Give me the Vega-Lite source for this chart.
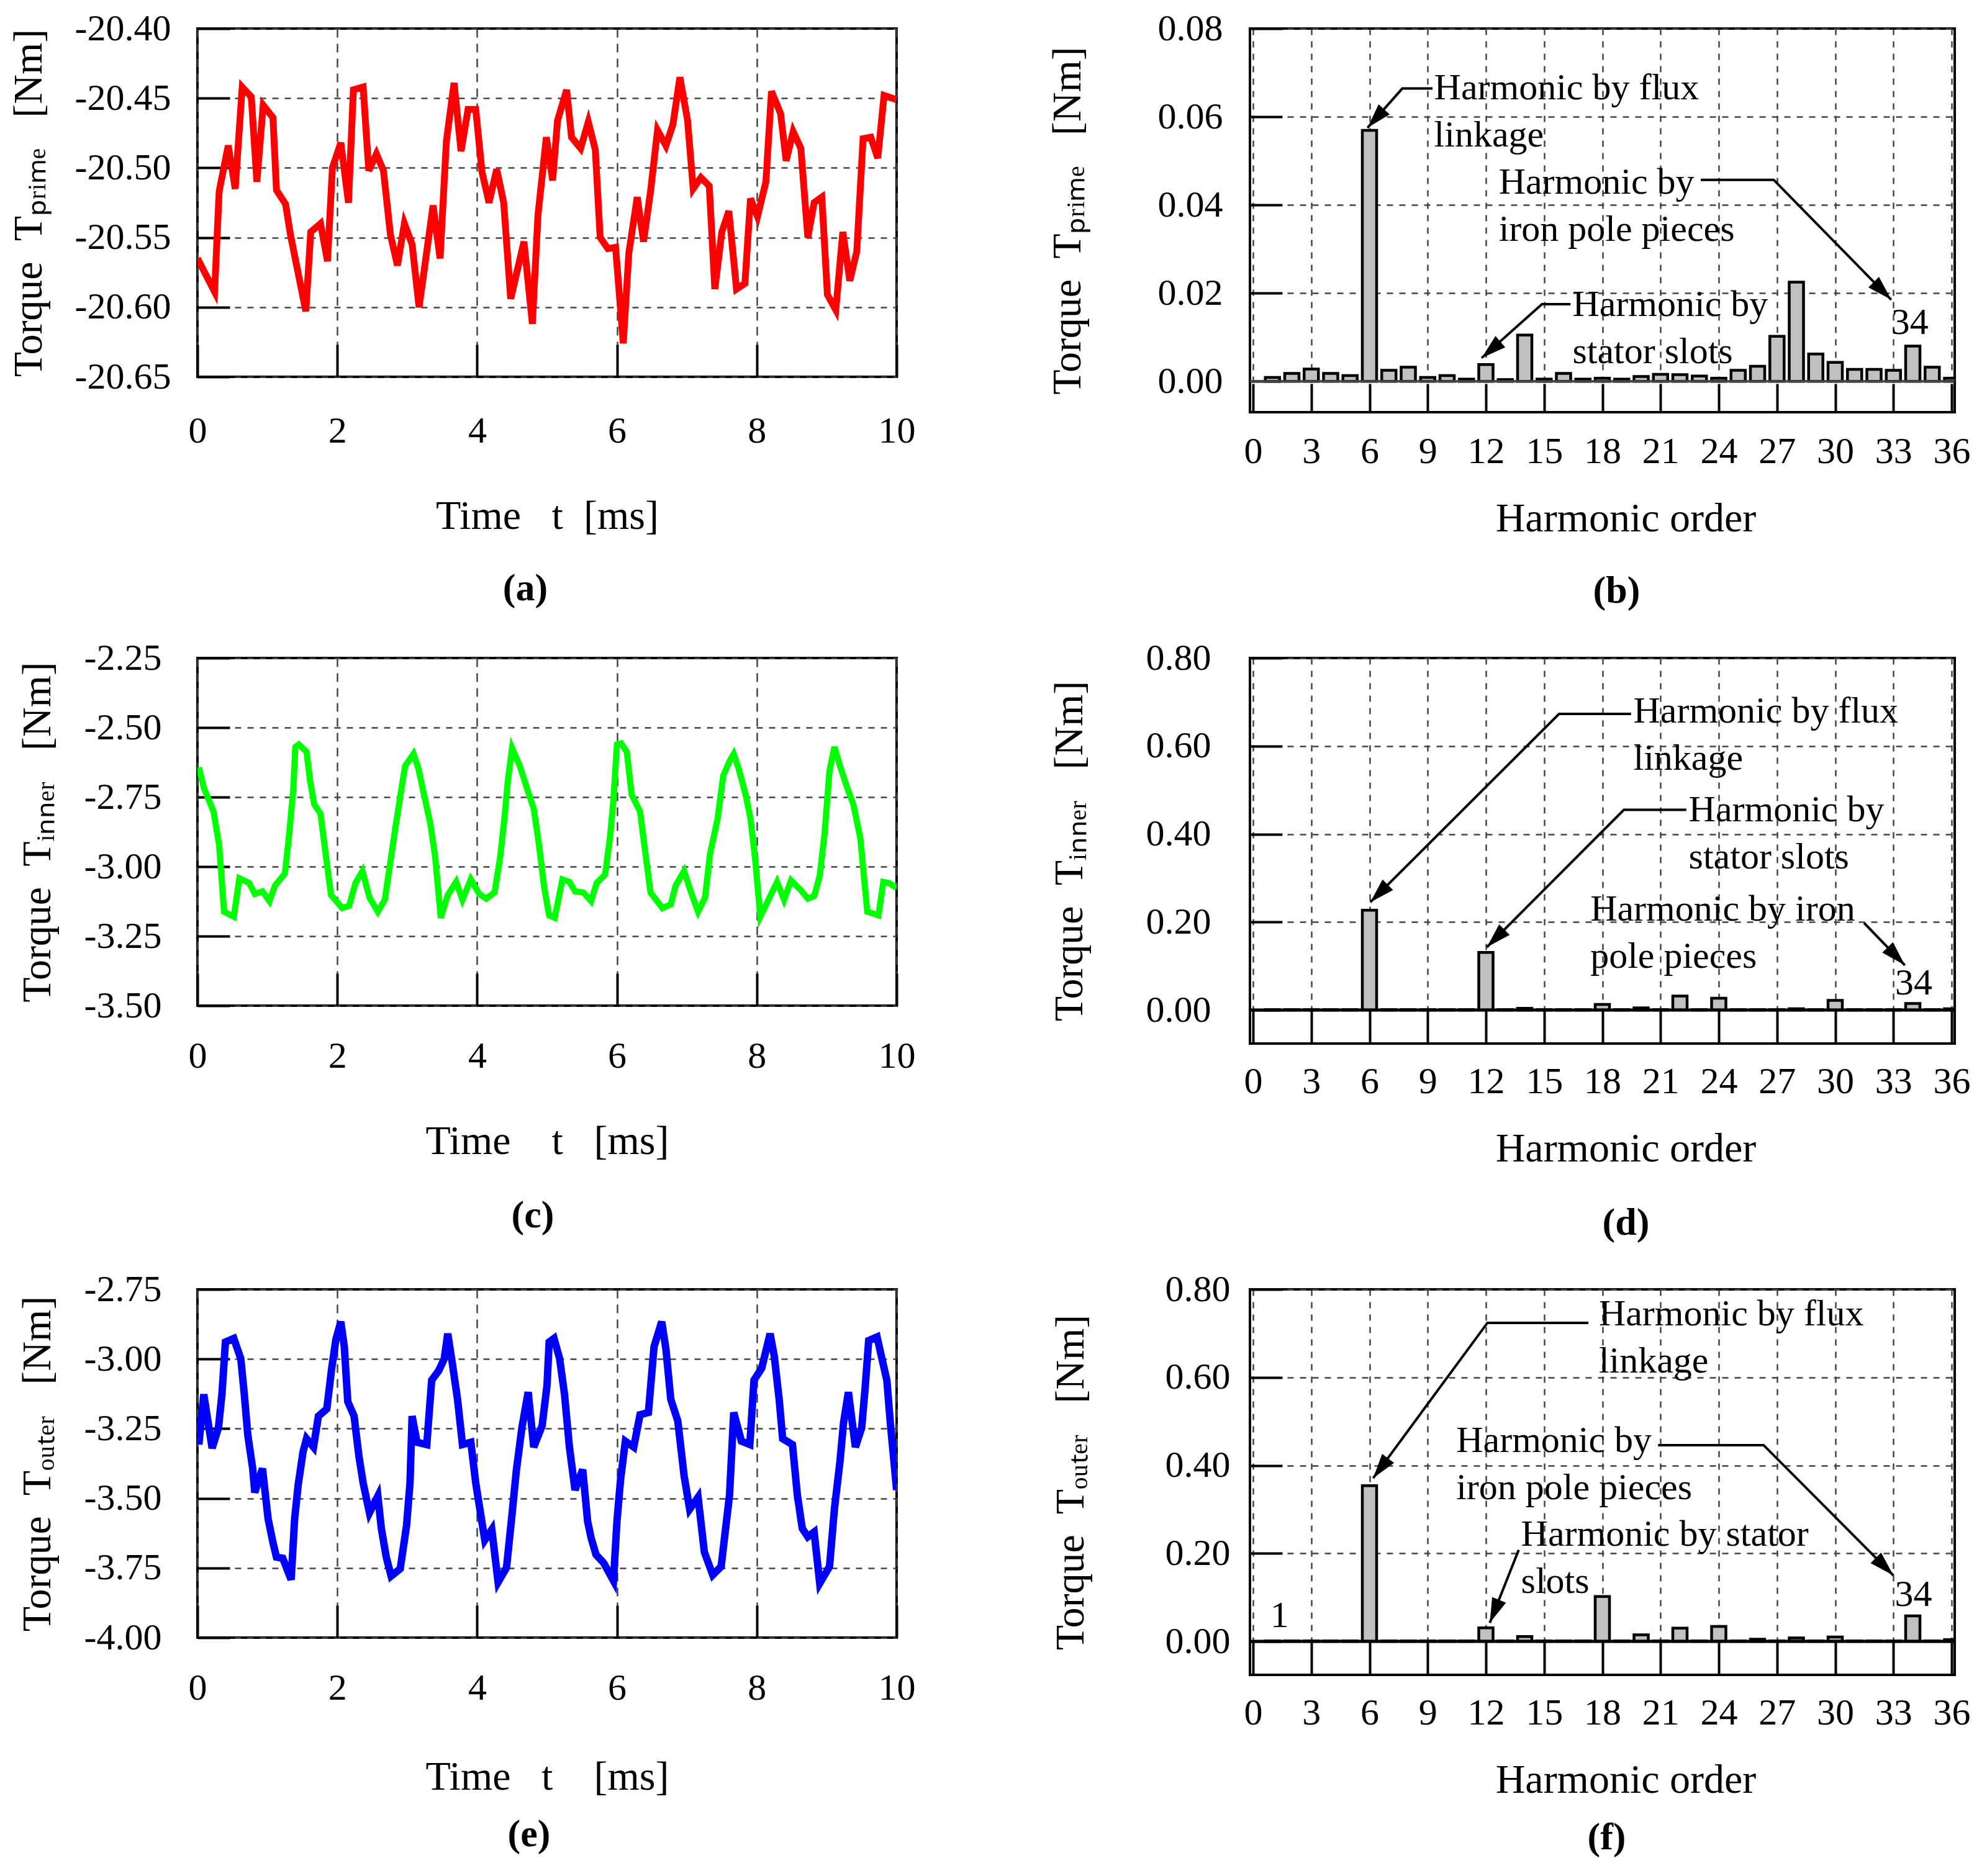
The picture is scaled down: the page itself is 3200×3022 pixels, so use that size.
{
  "$schema": "https://vega.github.io/schema/vega-lite/v6.json",
  "background": "white",
  "padding": {"left": 11, "top": 14, "right": 0, "bottom": 0},
  "columns": 2,
  "spacing": {"row": 396, "column": 569},
  "bounds": "flush",
  "config": {
    "font": "Liberation Serif",
    "view": {"stroke": "black", "strokeWidth": 4},
    "axis": {
      "labelFont": "Liberation Serif", "labelFontSize": 60, "labelColor": "black",
      "titleFont": "Liberation Serif", "titleFontSize": 66, "titleFontWeight": "normal", "titleColor": "black",
      "domain": false, "tickColor": "black", "tickWidth": 4,
      "gridColor": "#444", "gridWidth": 2.5, "gridDash": [10, 10], "gridOpacity": 1,
      "labelFlush": false, "labelOverlap": false,
      "labelExpr": "replace(datum.label, '−', '-')"
    },
    "title": {"orient": "bottom", "frame": "group", "anchor": "middle", "font": "Liberation Serif", "fontSize": 62, "fontWeight": "bold", "color": "black"},
    "text": {"font": "Liberation Serif", "fontSize": 60, "color": "black"}
  },
  "concat": [
    {
      "width": 1126, "height": 561,
      "title": {"text": "(a)", "dx": -35, "offset": 54},
      "data": {"values": [
        {"t":0,"v":-20.565},{"t":0.245,"v":-20.589},{"t":0.31,"v":-20.517},{"t":0.44,"v":-20.484},{"t":0.54,"v":-20.515},{"t":0.64,"v":-20.442},{"t":0.77,"v":-20.449},{"t":0.85,"v":-20.510},{"t":0.94,"v":-20.455},{"t":1.08,"v":-20.464},{"t":1.13,"v":-20.516},{"t":1.26,"v":-20.526},{"t":1.33,"v":-20.548},{"t":1.55,"v":-20.603},{"t":1.62,"v":-20.546},{"t":1.76,"v":-20.540},{"t":1.86,"v":-20.567},{"t":1.93,"v":-20.500},{"t":2.05,"v":-20.482},{"t":2.16,"v":-20.525},{"t":2.23,"v":-20.444},{"t":2.37,"v":-20.442},{"t":2.45,"v":-20.502},{"t":2.56,"v":-20.490},{"t":2.66,"v":-20.502},{"t":2.76,"v":-20.548},{"t":2.86,"v":-20.570},{"t":2.96,"v":-20.540},{"t":3.07,"v":-20.555},{"t":3.17,"v":-20.600},{"t":3.37,"v":-20.527},{"t":3.47,"v":-20.565},{"t":3.56,"v":-20.481},{"t":3.67,"v":-20.439},{"t":3.77,"v":-20.488},{"t":3.87,"v":-20.458},{"t":3.98,"v":-20.458},{"t":4.07,"v":-20.503},{"t":4.17,"v":-20.525},{"t":4.28,"v":-20.501},{"t":4.38,"v":-20.525},{"t":4.48,"v":-20.594},{"t":4.67,"v":-20.553},{"t":4.79,"v":-20.612},{"t":4.87,"v":-20.534},{"t":4.99,"v":-20.478},{"t":5.08,"v":-20.509},{"t":5.15,"v":-20.466},{"t":5.28,"v":-20.444},{"t":5.35,"v":-20.478},{"t":5.48,"v":-20.486},{"t":5.59,"v":-20.467},{"t":5.69,"v":-20.487},{"t":5.76,"v":-20.550},{"t":5.87,"v":-20.558},{"t":5.98,"v":-20.557},{"t":6.09,"v":-20.626},{"t":6.17,"v":-20.561},{"t":6.29,"v":-20.521},{"t":6.38,"v":-20.553},{"t":6.48,"v":-20.517},{"t":6.58,"v":-20.473},{"t":6.70,"v":-20.484},{"t":6.80,"v":-20.469},{"t":6.90,"v":-20.435},{"t":7.01,"v":-20.466},{"t":7.09,"v":-20.515},{"t":7.20,"v":-20.507},{"t":7.32,"v":-20.513},{"t":7.40,"v":-20.587},{"t":7.50,"v":-20.546},{"t":7.60,"v":-20.531},{"t":7.71,"v":-20.587},{"t":7.83,"v":-20.583},{"t":7.91,"v":-20.522},{"t":8.01,"v":-20.535},{"t":8.13,"v":-20.510},{"t":8.21,"v":-20.445},{"t":8.34,"v":-20.461},{"t":8.42,"v":-20.495},{"t":8.52,"v":-20.474},{"t":8.63,"v":-20.486},{"t":8.73,"v":-20.550},{"t":8.82,"v":-20.525},{"t":8.93,"v":-20.521},{"t":9.01,"v":-20.591},{"t":9.13,"v":-20.602},{"t":9.23,"v":-20.546},{"t":9.33,"v":-20.581},{"t":9.43,"v":-20.560},{"t":9.52,"v":-20.479},{"t":9.63,"v":-20.478},{"t":9.73,"v":-20.493},{"t":9.82,"v":-20.448},{"t":10,"v":-20.451}
      ]},
      "mark": {"type": "line", "color": "#ff0000", "strokeWidth": 11, "clip": true},
      "encoding": {
        "x": {"field": "t", "type": "quantitative", "scale": {"domain": [0, 10], "nice": false},
              "axis": {"values": [0, 2, 4, 6, 8, 10], "title": "Time\u00a0\u00a0\u00a0t\u00a0\u00a0[ms]", "tickSize": -52, "labelPadding": 110, "titlePadding": 75, "gridDash": [14, 10]}},
        "y": {"field": "v", "type": "quantitative", "scale": {"domain": [-20.65, -20.40], "nice": false, "zero": false},
              "axis": {"values": [-20.65, -20.6, -20.55, -20.5, -20.45, -20.4], "format": ".2f", "title": "Torque\u00a0\u00a0Tₚᵣᵢₘₑ\u00a0\u00a0\u00a0[Nm]", "tickSize": -52, "labelPadding": 95, "titlePadding": 40}}
      }
    },
    {
      "width": 1135, "height": 618,
      "title": {"text": "(b)", "dx": 23, "offset": 54},
      "layer": [
        {
          "data": {"values": [
            {"x":1,"y":0.0009},{"x":2,"y":0.0018},{"x":3,"y":0.0028},{"x":4,"y":0.0018},{"x":5,"y":0.0013},{"x":6,"y":0.0569},{"x":7,"y":0.0025},{"x":8,"y":0.0032},{"x":9,"y":0.0009},{"x":10,"y":0.0013},{"x":11,"y":0.0005},{"x":12,"y":0.0038},{"x":13,"y":0.0004},{"x":14,"y":0.0105},{"x":15,"y":0.0005},{"x":16,"y":0.0018},{"x":17,"y":0.0005},{"x":18,"y":0.0007},{"x":19,"y":0.0005},{"x":20,"y":0.0011},{"x":21,"y":0.0016},{"x":22,"y":0.0015},{"x":23,"y":0.0012},{"x":24,"y":0.0007},{"x":25,"y":0.0025},{"x":26,"y":0.0034},{"x":27,"y":0.0102},{"x":28,"y":0.0225},{"x":29,"y":0.0062},{"x":30,"y":0.0043},{"x":31,"y":0.0027},{"x":32,"y":0.0027},{"x":33,"y":0.0025},{"x":34,"y":0.0080},{"x":35,"y":0.0032},{"x":36,"y":0.0007}
          ]},
          "mark": {"type": "bar", "fill": "#c0c0c0", "stroke": "black", "strokeWidth": 4.5, "size": 23, "clip": true},
          "encoding": {
            "x": {"field": "x", "type": "quantitative", "scale": {"domain": [0, 36], "nice": false},
                  "axis": {"values": [0, 3, 6, 9, 12, 15, 18, 21, 24, 27, 30, 33, 36], "title": "Harmonic order", "titleX": 605, "tickSize": -46, "labelPadding": 80, "titlePadding": 46}},
            "y": {"field": "y", "type": "quantitative", "scale": {"domain": [-0.007, 0.08], "nice": false, "zero": false},
                  "axis": {"values": [0, 0.02, 0.04, 0.06, 0.08], "format": ".2f", "title": "Torque\u00a0\u00a0Tₚᵣᵢₘₑ\u00a0\u00a0\u00a0[Nm]", "tickSize": -52, "labelPadding": 96, "titlePadding": 111}}
          }
        },
        {"data": {"values": [{}]}, "mark": {"type": "rule", "color": "#444", "strokeWidth": 4}, "encoding": {"y": {"datum": 0, "type": "quantitative"}}},
        {
          "data": {"values": [
            {"id":"a1","k":0,"x":9.25,"y":0.0664},{"id":"a1","k":1,"x":7.69,"y":0.0664},{"id":"a1","k":2,"x":5.9,"y":0.0575},
            {"id":"a2","k":0,"x":23.07,"y":0.0457},{"id":"a2","k":1,"x":26.83,"y":0.0457},{"id":"a2","k":2,"x":32.89,"y":0.0185},
            {"id":"a3","k":0,"x":16.36,"y":0.0175},{"id":"a3","k":1,"x":14.89,"y":0.0175},{"id":"a3","k":2,"x":11.78,"y":0.0053}
          ]},
          "mark": {"type": "line", "color": "black", "strokeWidth": 4},
          "encoding": {"x": {"field": "x", "type": "quantitative"}, "y": {"field": "y", "type": "quantitative"}, "detail": {"field": "id"}, "order": {"field": "k"}}
        },
        {
          "data": {"values": [
            {"x":9.33,"y":0.0639,"label":"Harmonic by flux\nlinkage"},
            {"x":12.66,"y":0.0425,"label":"Harmonic by\niron pole pieces"},
            {"x":16.46,"y":0.0148,"label":"Harmonic by\nstator slots"},
            {"x":32.89,"y":0.0107,"label":"34"}
          ]},
          "mark": {"type": "text", "align": "left", "baseline": "alphabetic", "lineBreak": "\n", "lineHeight": 76},
          "encoding": {"x": {"field": "x", "type": "quantitative"}, "y": {"field": "y", "type": "quantitative"}, "text": {"field": "label"}}
        },
        {"data": {"values": [{"x":5.9,"y":0.0575}]}, "mark": {"type": "point", "shape": "M0,0L0.6,2L-0.6,2Z", "size": 1600, "angle": 222, "filled": true, "color": "black", "opacity": 1}, "encoding": {"x": {"field": "x", "type": "quantitative"}, "y": {"field": "y", "type": "quantitative"}}},
        {"data": {"values": [{"x":32.89,"y":0.0185}]}, "mark": {"type": "point", "shape": "M0,0L0.6,2L-0.6,2Z", "size": 1600, "angle": 135, "filled": true, "color": "black", "opacity": 1}, "encoding": {"x": {"field": "x", "type": "quantitative"}, "y": {"field": "y", "type": "quantitative"}}},
        {"data": {"values": [{"x":11.78,"y":0.0053}]}, "mark": {"type": "point", "shape": "M0,0L0.6,2L-0.6,2Z", "size": 1600, "angle": 229, "filled": true, "color": "black", "opacity": 1}, "encoding": {"x": {"field": "x", "type": "quantitative"}, "y": {"field": "y", "type": "quantitative"}}}
      ]
    },
    {
      "width": 1126, "height": 560,
      "title": {"text": "(c)", "dx": -23, "offset": 57},
      "data": {"values": [
        {"t":0.02,"v":-2.643},{"t":0.09,"v":-2.716},{"t":0.23,"v":-2.802},{"t":0.31,"v":-2.922},{"t":0.38,"v":-3.162},{"t":0.52,"v":-3.180},{"t":0.60,"v":-3.042},{"t":0.74,"v":-3.059},{"t":0.82,"v":-3.098},{"t":0.93,"v":-3.089},{"t":1.03,"v":-3.124},{"t":1.11,"v":-3.068},{"t":1.25,"v":-3.025},{"t":1.30,"v":-2.913},{"t":1.37,"v":-2.724},{"t":1.40,"v":-2.570},{"t":1.45,"v":-2.561},{"t":1.56,"v":-2.587},{"t":1.61,"v":-2.690},{"t":1.67,"v":-2.776},{"t":1.76,"v":-2.810},{"t":1.83,"v":-2.948},{"t":1.91,"v":-3.102},{"t":2.07,"v":-3.149},{"t":2.17,"v":-3.141},{"t":2.26,"v":-3.059},{"t":2.36,"v":-3.016},{"t":2.46,"v":-3.111},{"t":2.58,"v":-3.162},{"t":2.68,"v":-3.119},{"t":2.77,"v":-2.965},{"t":2.83,"v":-2.862},{"t":2.92,"v":-2.716},{"t":2.97,"v":-2.638},{"t":3.09,"v":-2.595},{"t":3.16,"v":-2.647},{"t":3.24,"v":-2.741},{"t":3.33,"v":-2.844},{"t":3.40,"v":-2.965},{"t":3.48,"v":-3.184},{"t":3.58,"v":-3.102},{"t":3.70,"v":-3.055},{"t":3.79,"v":-3.119},{"t":3.91,"v":-3.046},{"t":4.03,"v":-3.098},{"t":4.13,"v":-3.115},{"t":4.25,"v":-3.093},{"t":4.33,"v":-2.965},{"t":4.39,"v":-2.827},{"t":4.44,"v":-2.690},{"t":4.50,"v":-2.574},{"t":4.61,"v":-2.638},{"t":4.71,"v":-2.716},{"t":4.81,"v":-2.793},{"t":4.88,"v":-2.913},{"t":4.96,"v":-3.076},{"t":5.03,"v":-3.175},{"t":5.11,"v":-3.184},{"t":5.22,"v":-3.046},{"t":5.32,"v":-3.055},{"t":5.40,"v":-3.089},{"t":5.52,"v":-3.093},{"t":5.63,"v":-3.124},{"t":5.71,"v":-3.059},{"t":5.83,"v":-3.029},{"t":5.90,"v":-2.896},{"t":5.95,"v":-2.759},{"t":6.00,"v":-2.561},{"t":6.06,"v":-2.557},{"t":6.14,"v":-2.587},{"t":6.21,"v":-2.741},{"t":6.33,"v":-2.802},{"t":6.40,"v":-2.939},{"t":6.48,"v":-3.093},{"t":6.65,"v":-3.149},{"t":6.77,"v":-3.136},{"t":6.84,"v":-3.068},{"t":6.96,"v":-3.016},{"t":7.06,"v":-3.093},{"t":7.16,"v":-3.162},{"t":7.26,"v":-3.111},{"t":7.33,"v":-2.956},{"t":7.44,"v":-2.827},{"t":7.52,"v":-2.673},{"t":7.61,"v":-2.621},{"t":7.67,"v":-2.595},{"t":7.74,"v":-2.647},{"t":7.84,"v":-2.741},{"t":7.91,"v":-2.827},{"t":7.98,"v":-2.982},{"t":8.05,"v":-3.180},{"t":8.15,"v":-3.128},{"t":8.29,"v":-3.055},{"t":8.39,"v":-3.119},{"t":8.49,"v":-3.050},{"t":8.63,"v":-3.085},{"t":8.73,"v":-3.115},{"t":8.82,"v":-3.106},{"t":8.90,"v":-3.033},{"t":8.97,"v":-2.879},{"t":9.04,"v":-2.655},{"t":9.11,"v":-2.570},{"t":9.18,"v":-2.630},{"t":9.28,"v":-2.707},{"t":9.38,"v":-2.776},{"t":9.48,"v":-2.896},{"t":9.58,"v":-3.162},{"t":9.74,"v":-3.175},{"t":9.81,"v":-3.055},{"t":9.89,"v":-3.059},{"t":10,"v":-3.076}
      ]},
      "mark": {"type": "line", "color": "#00ff00", "strokeWidth": 10, "clip": true},
      "encoding": {
        "x": {"field": "t", "type": "quantitative", "scale": {"domain": [0, 10], "nice": false},
              "axis": {"values": [0, 2, 4, 6, 8, 10], "title": "Time\u00a0\u00a0\u00a0\u00a0t\u00a0\u00a0\u00a0[ms]", "tickSize": -52, "labelPadding": 104, "titlePadding": 75, "gridDash": [14, 10]}},
        "y": {"field": "v", "type": "quantitative", "scale": {"domain": [-3.5, -2.25], "nice": false, "zero": false},
              "axis": {"values": [-3.5, -3.25, -3.0, -2.75, -2.5, -2.25], "format": ".2f", "title": "Torque\u00a0\u00a0Tᵢₙₙₑᵣ\u00a0\u00a0\u00a0[Nm]", "tickSize": -52, "labelPadding": 110, "titlePadding": 41}}
      }
    },
    {
      "width": 1135, "height": 621,
      "title": {"text": "(d)", "dx": 38, "offset": 57},
      "layer": [
        {
          "data": {"values": [
            {"x":1,"y":0.001},{"x":2,"y":0.001},{"x":3,"y":0.001},{"x":4,"y":0.001},{"x":5,"y":0.001},{"x":6,"y":0.227},{"x":7,"y":0.001},{"x":8,"y":0.001},{"x":9,"y":0.001},{"x":10,"y":0.001},{"x":11,"y":0.001},{"x":12,"y":0.131},{"x":13,"y":0.001},{"x":14,"y":0.004},{"x":15,"y":0.001},{"x":16,"y":0.001},{"x":17,"y":0.001},{"x":18,"y":0.013},{"x":19,"y":0.001},{"x":20,"y":0.005},{"x":21,"y":0.001},{"x":22,"y":0.032},{"x":23,"y":0.001},{"x":24,"y":0.027},{"x":25,"y":0.001},{"x":26,"y":0.001},{"x":27,"y":0.001},{"x":28,"y":0.003},{"x":29,"y":0.001},{"x":30,"y":0.022},{"x":31,"y":0.001},{"x":32,"y":0.001},{"x":33,"y":0.001},{"x":34,"y":0.015},{"x":35,"y":0.001},{"x":36,"y":0.003}
          ]},
          "mark": {"type": "bar", "fill": "#c0c0c0", "stroke": "black", "strokeWidth": 4.5, "size": 23, "clip": true},
          "encoding": {
            "x": {"field": "x", "type": "quantitative", "scale": {"domain": [0, 36], "nice": false},
                  "axis": {"values": [0, 3, 6, 9, 12, 15, 18, 21, 24, 27, 30, 33, 36], "title": "Harmonic order", "titleX": 605, "tickSize": -54, "labelPadding": 86, "titlePadding": 46}},
            "y": {"field": "y", "type": "quantitative", "scale": {"domain": [-0.076, 0.8], "nice": false, "zero": false},
                  "axis": {"values": [0, 0.2, 0.4, 0.6, 0.8], "format": ".2f", "title": "Torque\u00a0\u00a0Tᵢₙₙₑᵣ\u00a0\u00a0\u00a0[Nm]", "tickSize": -52, "labelPadding": 115, "titlePadding": 89}}
          }
        },
        {"data": {"values": [{}]}, "mark": {"type": "rule", "color": "black", "strokeWidth": 5}, "encoding": {"y": {"datum": 0, "type": "quantitative"}}},
        {
          "data": {"values": [
            {"id":"d1","k":0,"x":19.48,"y":0.673},{"id":"d1","k":1,"x":15.77,"y":0.673},{"id":"d1","k":2,"x":6.04,"y":0.245},
            {"id":"d2","k":0,"x":22.33,"y":0.455},{"id":"d2","k":1,"x":19.11,"y":0.455},{"id":"d2","k":2,"x":12.05,"y":0.143},
            {"id":"d3","k":0,"x":31.49,"y":0.198},{"id":"d3","k":1,"x":33.59,"y":0.102}
          ]},
          "mark": {"type": "line", "color": "black", "strokeWidth": 4},
          "encoding": {"x": {"field": "x", "type": "quantitative"}, "y": {"field": "y", "type": "quantitative"}, "detail": {"field": "id"}, "order": {"field": "k"}}
        },
        {
          "data": {"values": [
            {"x":19.6,"y":0.653,"label":"Harmonic by flux\nlinkage"},
            {"x":22.45,"y":0.4286,"label":"Harmonic by\nstator slots"},
            {"x":17.38,"y":0.204,"label":"Harmonic by iron\npole pieces"},
            {"x":33.09,"y":0.035,"label":"34"}
          ]},
          "mark": {"type": "text", "align": "left", "baseline": "alphabetic", "lineBreak": "\n", "lineHeight": 76},
          "encoding": {"x": {"field": "x", "type": "quantitative"}, "y": {"field": "y", "type": "quantitative"}, "text": {"field": "label"}}
        },
        {"data": {"values": [{"x":6.04,"y":0.245}]}, "mark": {"type": "point", "shape": "M0,0L0.6,2L-0.6,2Z", "size": 1600, "angle": 225, "filled": true, "color": "black", "opacity": 1}, "encoding": {"x": {"field": "x", "type": "quantitative"}, "y": {"field": "y", "type": "quantitative"}}},
        {"data": {"values": [{"x":12.05,"y":0.143}]}, "mark": {"type": "point", "shape": "M0,0L0.6,2L-0.6,2Z", "size": 1600, "angle": 225, "filled": true, "color": "black", "opacity": 1}, "encoding": {"x": {"field": "x", "type": "quantitative"}, "y": {"field": "y", "type": "quantitative"}}},
        {"data": {"values": [{"x":33.59,"y":0.102}]}, "mark": {"type": "point", "shape": "M0,0L0.6,2L-0.6,2Z", "size": 1600, "angle": 136, "filled": true, "color": "black", "opacity": 1}, "encoding": {"x": {"field": "x", "type": "quantitative"}, "y": {"field": "y", "type": "quantitative"}}}
      ]
    },
    {
      "width": 1126, "height": 561,
      "title": {"text": "(e)", "dx": -29, "offset": 30},
      "data": {"values": [
        {"t":0.02,"v":-3.307},{"t":0.09,"v":-3.127},{"t":0.21,"v":-3.320},{"t":0.30,"v":-3.247},{"t":0.35,"v":-3.127},{"t":0.40,"v":-2.939},{"t":0.52,"v":-2.926},{"t":0.62,"v":-2.999},{"t":0.67,"v":-3.127},{"t":0.72,"v":-3.273},{"t":0.79,"v":-3.393},{"t":0.82,"v":-3.479},{"t":0.93,"v":-3.393},{"t":1.01,"v":-3.573},{"t":1.08,"v":-3.659},{"t":1.13,"v":-3.711},{"t":1.22,"v":-3.715},{"t":1.34,"v":-3.792},{"t":1.39,"v":-3.573},{"t":1.44,"v":-3.453},{"t":1.51,"v":-3.333},{"t":1.56,"v":-3.286},{"t":1.66,"v":-3.316},{"t":1.73,"v":-3.205},{"t":1.85,"v":-3.179},{"t":1.92,"v":-3.033},{"t":1.98,"v":-2.930},{"t":2.05,"v":-2.866},{"t":2.10,"v":-2.956},{"t":2.15,"v":-3.153},{"t":2.24,"v":-3.205},{"t":2.31,"v":-3.350},{"t":2.37,"v":-3.445},{"t":2.46,"v":-3.552},{"t":2.58,"v":-3.492},{"t":2.63,"v":-3.608},{"t":2.70,"v":-3.711},{"t":2.77,"v":-3.779},{"t":2.90,"v":-3.753},{"t":2.99,"v":-3.599},{"t":3.04,"v":-3.445},{"t":3.07,"v":-3.205},{"t":3.14,"v":-3.299},{"t":3.28,"v":-3.307},{"t":3.35,"v":-3.076},{"t":3.45,"v":-3.042},{"t":3.53,"v":-2.999},{"t":3.58,"v":-2.909},{"t":3.64,"v":-3.007},{"t":3.72,"v":-3.145},{"t":3.79,"v":-3.307},{"t":3.91,"v":-3.299},{"t":3.98,"v":-3.445},{"t":4.05,"v":-3.556},{"t":4.11,"v":-3.650},{"t":4.21,"v":-3.612},{"t":4.30,"v":-3.801},{"t":4.42,"v":-3.749},{"t":4.50,"v":-3.556},{"t":4.56,"v":-3.402},{"t":4.64,"v":-3.247},{"t":4.73,"v":-3.119},{"t":4.81,"v":-3.316},{"t":4.93,"v":-3.239},{"t":5.00,"v":-3.093},{"t":5.03,"v":-2.939},{"t":5.10,"v":-2.926},{"t":5.18,"v":-2.999},{"t":5.25,"v":-3.127},{"t":5.32,"v":-3.316},{"t":5.40,"v":-3.470},{"t":5.51,"v":-3.397},{"t":5.58,"v":-3.582},{"t":5.63,"v":-3.642},{"t":5.70,"v":-3.702},{"t":5.81,"v":-3.732},{"t":5.95,"v":-3.796},{"t":6.00,"v":-3.582},{"t":6.05,"v":-3.436},{"t":6.12,"v":-3.295},{"t":6.24,"v":-3.316},{"t":6.33,"v":-3.200},{"t":6.45,"v":-3.192},{"t":6.53,"v":-2.956},{"t":6.64,"v":-2.866},{"t":6.70,"v":-2.964},{"t":6.77,"v":-3.145},{"t":6.87,"v":-3.222},{"t":6.96,"v":-3.419},{"t":7.04,"v":-3.539},{"t":7.16,"v":-3.496},{"t":7.25,"v":-3.693},{"t":7.37,"v":-3.775},{"t":7.49,"v":-3.745},{"t":7.61,"v":-3.488},{"t":7.67,"v":-3.192},{"t":7.78,"v":-3.295},{"t":7.90,"v":-3.307},{"t":7.96,"v":-3.076},{"t":8.07,"v":-3.033},{"t":8.19,"v":-2.909},{"t":8.25,"v":-2.990},{"t":8.32,"v":-3.145},{"t":8.37,"v":-3.286},{"t":8.51,"v":-3.307},{"t":8.58,"v":-3.488},{"t":8.65,"v":-3.608},{"t":8.73,"v":-3.638},{"t":8.82,"v":-3.621},{"t":8.90,"v":-3.805},{"t":9.04,"v":-3.745},{"t":9.11,"v":-3.539},{"t":9.19,"v":-3.367},{"t":9.24,"v":-3.230},{"t":9.31,"v":-3.119},{"t":9.41,"v":-3.316},{"t":9.50,"v":-3.247},{"t":9.55,"v":-3.102},{"t":9.60,"v":-2.934},{"t":9.72,"v":-2.921},{"t":9.79,"v":-2.999},{"t":9.86,"v":-3.076},{"t":9.91,"v":-3.230},{"t":10,"v":-3.470}
      ]},
      "mark": {"type": "line", "color": "#0000ff", "strokeWidth": 12, "clip": true},
      "encoding": {
        "x": {"field": "t", "type": "quantitative", "scale": {"domain": [0, 10], "nice": false},
              "axis": {"values": [0, 2, 4, 6, 8, 10], "title": "Time\u00a0\u00a0\u00a0t\u00a0\u00a0\u00a0\u00a0[ms]", "tickSize": -52, "labelPadding": 104, "titlePadding": 81, "gridDash": [14, 10]}},
        "y": {"field": "v", "type": "quantitative", "scale": {"domain": [-4.0, -2.75], "nice": false, "zero": false},
              "axis": {"values": [-4.0, -3.75, -3.5, -3.25, -3.0, -2.75], "format": ".2f", "title": "Torque\u00a0\u00a0Tₒᵤₜₑᵣ\u00a0\u00a0\u00a0[Nm]", "tickSize": -52, "labelPadding": 110, "titlePadding": 41}}
      }
    },
    {
      "width": 1135, "height": 621,
      "title": {"text": "(f)", "dx": 7, "offset": 30},
      "layer": [
        {
          "data": {"values": [
            {"x":1,"y":0.001},{"x":2,"y":0.001},{"x":3,"y":0.001},{"x":4,"y":0.001},{"x":5,"y":0.001},{"x":6,"y":0.354},{"x":7,"y":0.001},{"x":8,"y":0.001},{"x":9,"y":0.001},{"x":10,"y":0.001},{"x":11,"y":0.001},{"x":12,"y":0.031},{"x":13,"y":0.001},{"x":14,"y":0.011},{"x":15,"y":0.001},{"x":16,"y":0.001},{"x":17,"y":0.001},{"x":18,"y":0.102},{"x":19,"y":0.001},{"x":20,"y":0.015},{"x":21,"y":0.001},{"x":22,"y":0.030},{"x":23,"y":0.001},{"x":24,"y":0.034},{"x":25,"y":0.001},{"x":26,"y":0.005},{"x":27,"y":0.001},{"x":28,"y":0.008},{"x":29,"y":0.001},{"x":30,"y":0.010},{"x":31,"y":0.001},{"x":32,"y":0.001},{"x":33,"y":0.001},{"x":34,"y":0.058},{"x":35,"y":0.001},{"x":36,"y":0.004}
          ]},
          "mark": {"type": "bar", "fill": "#c0c0c0", "stroke": "black", "strokeWidth": 4.5, "size": 23, "clip": true},
          "encoding": {
            "x": {"field": "x", "type": "quantitative", "scale": {"domain": [0, 36], "nice": false},
                  "axis": {"values": [0, 3, 6, 9, 12, 15, 18, 21, 24, 27, 30, 33, 36], "title": "Harmonic order", "titleX": 605, "tickSize": -54, "labelPadding": 86, "titlePadding": 46}},
            "y": {"field": "y", "type": "quantitative", "scale": {"domain": [-0.076, 0.8], "nice": false, "zero": false},
                  "axis": {"values": [0, 0.2, 0.4, 0.6, 0.8], "format": ".2f", "title": "Torque\u00a0\u00a0Tₒᵤₜₑᵣ\u00a0\u00a0\u00a0[Nm]", "tickSize": -52, "labelPadding": 84, "titlePadding": 118}}
          }
        },
        {"data": {"values": [{}]}, "mark": {"type": "rule", "color": "black", "strokeWidth": 5}, "encoding": {"y": {"datum": 0, "type": "quantitative"}}},
        {
          "data": {"values": [
            {"id":"f1","k":0,"x":17.28,"y":0.724},{"id":"f1","k":1,"x":12.08,"y":0.724},{"id":"f1","k":2,"x":6.19,"y":0.371},
            {"id":"f2","k":0,"x":20.87,"y":0.446},{"id":"f2","k":1,"x":26.31,"y":0.446},{"id":"f2","k":2,"x":33.0,"y":0.150},
            {"id":"f3","k":0,"x":13.69,"y":0.208},{"id":"f3","k":1,"x":12.2,"y":0.042}
          ]},
          "mark": {"type": "line", "color": "black", "strokeWidth": 4},
          "encoding": {"x": {"field": "x", "type": "quantitative"}, "y": {"field": "y", "type": "quantitative"}, "detail": {"field": "id"}, "order": {"field": "k"}}
        },
        {
          "data": {"values": [
            {"x":17.82,"y":0.718,"label":"Harmonic by flux\nlinkage"},
            {"x":10.47,"y":0.430,"label":"Harmonic by\niron pole pieces"},
            {"x":13.81,"y":0.217,"label":"Harmonic by stator\nslots"},
            {"x":33.07,"y":0.080,"label":"34"},
            {"x":0.89,"y":0.033,"label":"1"}
          ]},
          "mark": {"type": "text", "align": "left", "baseline": "alphabetic", "lineBreak": "\n", "lineHeight": 76},
          "encoding": {"x": {"field": "x", "type": "quantitative"}, "y": {"field": "y", "type": "quantitative"}, "text": {"field": "label"}}
        },
        {"data": {"values": [{"x":6.19,"y":0.371}]}, "mark": {"type": "point", "shape": "M0,0L0.6,2L-0.6,2Z", "size": 1600, "angle": 217, "filled": true, "color": "black", "opacity": 1}, "encoding": {"x": {"field": "x", "type": "quantitative"}, "y": {"field": "y", "type": "quantitative"}}},
        {"data": {"values": [{"x":33.0,"y":0.150}]}, "mark": {"type": "point", "shape": "M0,0L0.6,2L-0.6,2Z", "size": 1600, "angle": 135, "filled": true, "color": "black", "opacity": 1}, "encoding": {"x": {"field": "x", "type": "quantitative"}, "y": {"field": "y", "type": "quantitative"}}},
        {"data": {"values": [{"x":12.2,"y":0.042}]}, "mark": {"type": "point", "shape": "M0,0L0.6,2L-0.6,2Z", "size": 1600, "angle": 202, "filled": true, "color": "black", "opacity": 1}, "encoding": {"x": {"field": "x", "type": "quantitative"}, "y": {"field": "y", "type": "quantitative"}}}
      ]
    }
  ]
}
